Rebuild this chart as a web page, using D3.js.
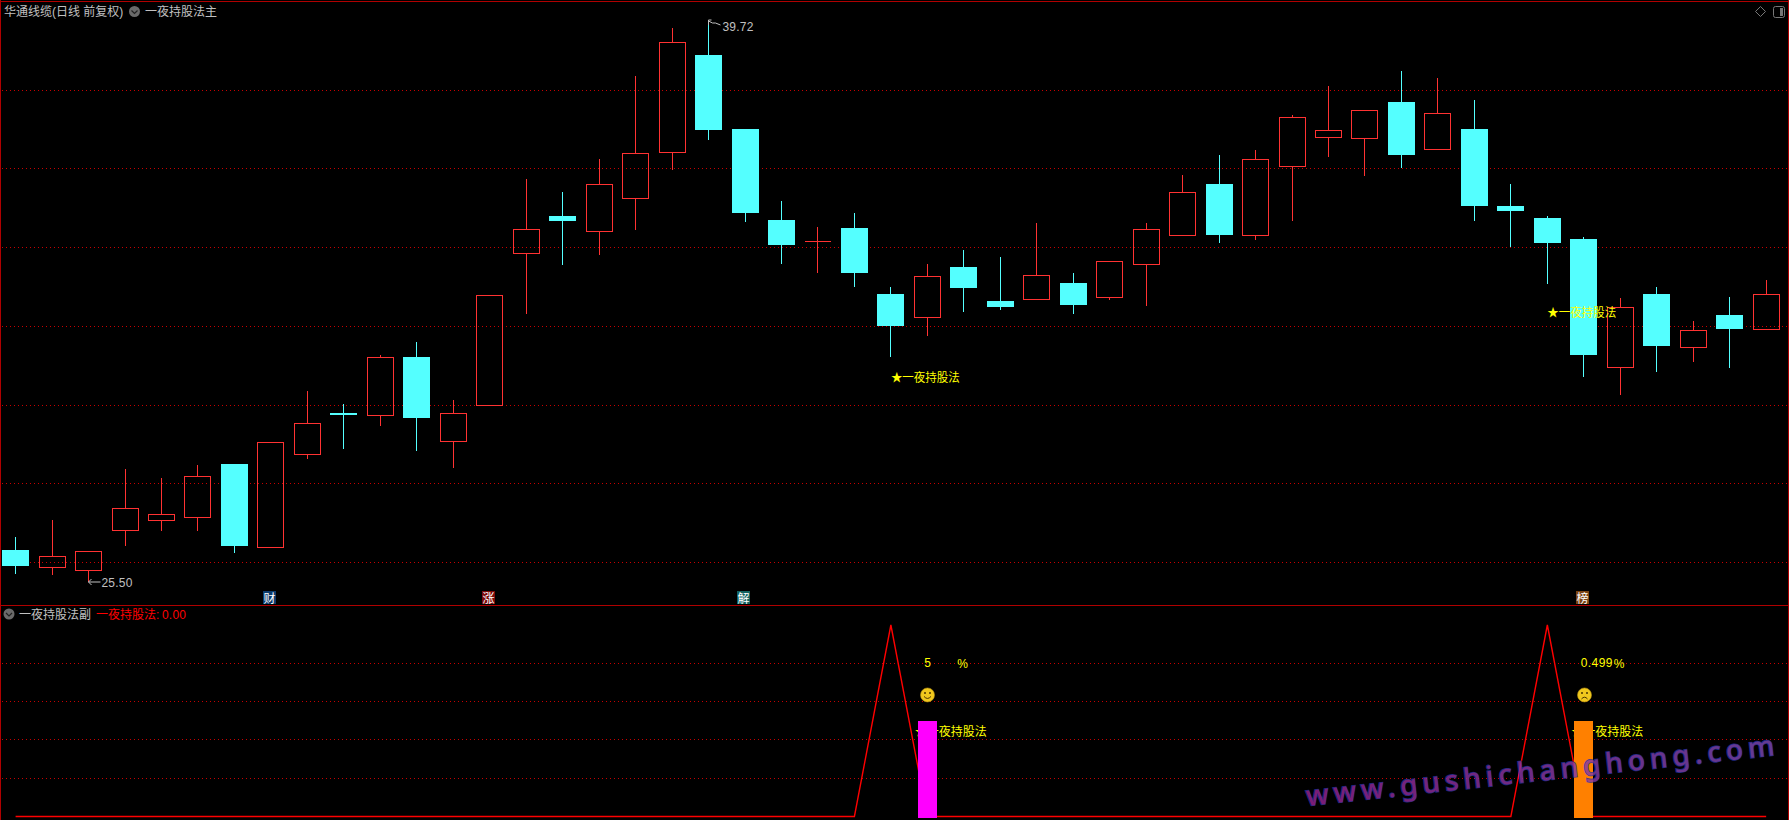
<!DOCTYPE html>
<html><head><meta charset="utf-8">
<style>
html,body{margin:0;padding:0;background:#000;overflow:hidden}
svg{display:block}
text{font-family:"Liberation Sans","Noto Sans CJK SC",sans-serif;font-size:12px}
</style>
<script src="https://cdn.jsdelivr.net/npm/d3@7/dist/d3.min.js"></script>
</head><body><div id="c"></div>
<script>
const open  = [26.31,25.86,25.79,26.80,27.08,27.13,28.49,26.39,28.73,29.78,29.72,31.20,29.08,29.97,33.85,34.78,34.39,35.22,36.38,38.86,36.98,34.68,34.14,34.47,32.80,32.20,33.48,32.62,32.66,33.08,32.73,33.57,34.28,35.59,34.28,36.05,36.76,36.74,37.67,36.48,36.98,35.03,34.73,34.19,30.93,32.80,31.46,32.27,31.90];
const close = [25.91,26.15,26.28,27.37,27.22,28.18,26.41,29.04,29.52,29.73,31.20,29.66,29.78,32.77,34.46,34.65,35.58,36.37,39.18,36.96,34.85,34.04,34.14,33.33,31.99,33.25,32.95,32.47,33.27,32.52,33.63,34.46,35.38,34.30,36.21,37.28,36.95,37.46,36.32,37.38,35.03,34.90,34.09,31.25,32.46,31.48,31.88,31.91,32.79];
const high  = [26.64,27.07,26.28,28.36,28.14,28.47,28.49,29.04,30.34,30.01,31.25,31.58,30.11,32.77,35.71,35.39,36.21,38.33,39.54,39.72,36.98,35.16,34.50,34.85,32.98,33.56,33.92,33.74,34.60,33.33,33.63,34.60,35.82,36.32,36.45,37.34,38.07,37.46,38.45,38.27,37.72,35.59,34.78,34.24,32.70,32.98,32.12,32.72,33.16];
const low   = [25.70,25.68,25.50,26.42,26.80,26.80,26.23,26.39,28.62,28.87,29.45,28.82,28.39,29.97,32.29,33.54,33.80,34.42,35.94,36.70,34.62,33.56,33.33,32.98,31.20,31.74,32.34,32.39,32.66,32.29,32.65,32.50,34.28,34.09,34.17,34.65,36.27,35.79,35.99,36.48,34.65,33.99,33.05,30.70,30.24,30.82,31.08,30.92,31.90];
const gridPrices = [37.96,35.99,33.98,31.98,29.98,28.00,26.00];
const gridSub = [80,60,40,20];
const signal = [0,0,0,0,0,0,0,0,0,0,0,0,0,0,0,0,0,0,0,0,0,0,0,0,100,0,0,0,0,0,0,0,0,0,0,0,0,0,0,0,0,0,100,0,0,0,0,0,0];
const tags = [{i:7,t:"财",bg:"#0b3a6b"},{i:13,t:"涨",bg:"#7d0a0a"},{i:20,t:"解",bg:"#12615f"},{i:43,t:"榜",bg:"#7a4210"}];
const starLabels = [{i:24,p:30.70},{i:42,p:32.34}];
const signalBars = [{i:25,v:50,c:"#ff00ff",pct:"5",mood:1},{i:43,v:50,c:"#ff8000",pct:"0.499",mood:-1}];
const titleMain = "华通线缆(日线 前复权)", nameMain = "一夜持股法主", nameSub = "一夜持股法副", legendSub = "一夜持股法", legendVal = "0.00", starText = "★一夜持股法";
const watermark = "www.gushichanghong.com";

const W=1789,H=820, FRAME="#b00000", GRID="#c80000", UP="#ff3232", DOWN="#54ffff", GREY="#c0c0c0", YEL="#ffff00";
const svg=d3.select("#c").append("svg").attr("width",W).attr("height",H).style("background","#000");
const band=d3.scaleBand().domain(d3.range(open.length)).range([-2.635,-2.635+36.47*open.length]);
const x=i=>band(i)+band.bandwidth()/2;
const sx=i=>Math.floor(x(i))+.5;
const y=d3.scaleLinear().domain([25.5,39.72]).range([582,21]);
const sy=d3.scaleLinear().domain([0,100]).range([816.5,625]);
const snap=v=>Math.round(v)+.5;

// grid
const gg=svg.append("g").attr("stroke",GRID).attr("stroke-dasharray","1 3").attr("shape-rendering","crispEdges");
gg.selectAll("line.m").data(gridPrices).join("line").attr("class","m").attr("x1",2).attr("x2",W-1).attr("y1",d=>Math.floor(y(d))+.5).attr("y2",d=>Math.floor(y(d))+.5);
gg.selectAll("line.s").data(gridSub).join("line").attr("class","s").attr("x1",2).attr("x2",W-1).attr("y1",d=>Math.floor(sy(d))+.5).attr("y2",d=>Math.floor(sy(d))+.5);

// candles
const cg=svg.append("g").attr("shape-rendering","crispEdges");
open.forEach((o,i)=>{
  const c=close[i],up=c>=o,col=up?UP:DOWN,cx=sx(i);
  const top=y(Math.max(o,c)),bot=y(Math.min(o,c));
  cg.append("line").attr("x1",cx).attr("x2",cx).attr("y1",y(high[i])).attr("y2",top).attr("stroke",col);
  cg.append("line").attr("x1",cx).attr("x2",cx).attr("y1",bot).attr("y2",y(low[i])).attr("stroke",col);
  if(up){
    if(bot-top<1.5) cg.append("line").attr("x1",cx-13).attr("x2",cx+13).attr("y1",snap(top)).attr("y2",snap(top)).attr("stroke",col);
    else cg.append("rect").attr("x",cx-13).attr("width",26).attr("y",snap(top)).attr("height",Math.round(bot-top)).attr("fill","none").attr("stroke",col);
  } else {
    cg.append("rect").attr("x",cx-13.5).attr("width",27).attr("y",Math.round(top)).attr("height",Math.max(2,Math.round(bot-top))).attr("fill",col);
  }
});

// extreme-price notes
const iHi=high.indexOf(d3.max(high)), iLo=low.indexOf(d3.min(low));
const hx=sx(iHi),hy=y(high[iHi]),lx=sx(iLo),ly=y(low[iLo]);
svg.append("path").attr("fill","none").attr("stroke",GREY)
  .attr("d",`M${hx},${hy+4}V${hy-1}H${hx+3}M${hx},${hy}L${hx+4},${hy+2}L${hx+7},${hy+2}L${hx+12},${hy+4}`);
svg.append("text").attr("x",hx+14).attr("y",hy+10).attr("fill",GREY).attr("letter-spacing",".2").text(d3.format(".2f")(high[iHi]));
svg.append("path").attr("fill","none").attr("stroke",GREY)
  .attr("d",`M${lx+12},${ly}H${lx}M${lx+3},${ly-3}L${lx},${ly}L${lx+3},${ly+3}`);
svg.append("text").attr("x",lx+13).attr("y",ly+5).attr("fill",GREY).attr("letter-spacing",".2").text(d3.format(".2f")(low[iLo]));

// star labels on main panel
svg.selectAll("text.star").data(starLabels).join("text").attr("class","star")
  .attr("x",d=>x(d.i)).attr("y",d=>y(d.p)+5).attr("textLength",69).attr("lengthAdjust","spacingAndGlyphs").attr("fill",YEL).text(starText);

// tags
const tg=svg.selectAll("g.tag").data(tags).join("g").attr("class","tag").attr("transform",d=>`translate(${Math.round(x(d.i))-8},591)`);
tg.append("rect").attr("width",13).attr("height",13).attr("fill",d=>d.bg);
tg.append("text").attr("x",0.5).attr("y",11.5).attr("fill","#fff").text(d=>d.t);

// frame
const fg=svg.append("g").attr("stroke",FRAME).attr("shape-rendering","crispEdges");
fg.append("line").attr("x1",0).attr("x2",W).attr("y1",1.5).attr("y2",1.5);
fg.append("line").attr("x1",0).attr("x2",W).attr("y1",605.5).attr("y2",605.5);
fg.append("line").attr("x1",.5).attr("x2",.5).attr("y1",0).attr("y2",H);
fg.append("line").attr("x1",W-.5).attr("x2",W-.5).attr("y1",0).attr("y2",H);

// header text + icons
function chevron(cx,cy){
  svg.append("circle").attr("cx",cx).attr("cy",cy).attr("r",5.5).attr("fill","#6a6a6a");
  svg.append("path").attr("d",`M${cx-3},${cy-1}L${cx},${cy+2}L${cx+3},${cy-1}`).attr("fill","none").attr("stroke","#222").attr("stroke-width",1.2);
}
svg.append("text").attr("x",4).attr("y",16).attr("fill",GREY).text(titleMain);
chevron(134.5,11.5);
svg.append("text").attr("x",145).attr("y",16).attr("fill",GREY).text(nameMain);
svg.append("path").attr("d","M1760.5,6.5l5,5l-5,5l-5,-5z").attr("fill","none").attr("stroke","#777");
svg.append("rect").attr("x",1773.5).attr("y",6.5).attr("width",11).attr("height",11).attr("rx",2).attr("fill","none").attr("stroke","#777");
svg.append("rect").attr("x",1780).attr("y",8).attr("width",3).attr("height",8).attr("fill","#777");

chevron(9,614);
svg.append("text").attr("x",19).attr("y",619).attr("fill",GREY).text(nameSub);
svg.append("text").attr("x",96).attr("y",619).attr("fill","#ff0000").text(legendSub+":");
svg.append("text").attr("x",162).attr("y",619).attr("fill","#ff0000").attr("letter-spacing",".2").text(legendVal);

// sub panel texts under bars
const tx=svg.selectAll("g.sigtext").data(signalBars).join("g").attr("class","sigtext");
tx.append("text").attr("x",d=>x(d.i)-12.5).attr("y",sy(45)+6).attr("fill",YEL).text(starText);
tx.append("text").attr("x",d=>x(d.i)-3).attr("y",sy(80)+4).attr("fill",YEL).attr("letter-spacing",".4").text(d=>d.pct);
tx.append("text").attr("x",d=>x(d.i)+30).attr("y",sy(80)+5).attr("fill",YEL).text("%");

// signal line
svg.append("path").datum(signal).attr("fill","none").attr("stroke","#ff0000").attr("stroke-width",1.4)
  .attr("d",d3.line().x((d,i)=>x(i)).y(d=>sy(d)));

// bars, drawn over the line
svg.selectAll("rect.sigbar").data(signalBars).join("rect").attr("class","sigbar")
  .attr("x",d=>Math.floor(x(d.i))-9).attr("width",19).attr("y",d=>sy(d.v)).attr("height",d=>sy(0)-sy(d.v)+1).attr("fill",d=>d.c).attr("shape-rendering","crispEdges");

// faces
const face=svg.selectAll("g.face").data(signalBars).join("g").attr("class","face").attr("transform",d=>`translate(${Math.round(x(d.i))+.5},${sy(64)+1})`);
face.append("circle").attr("r",7).attr("fill","#f0c81e").attr("stroke","#b8930f").attr("stroke-width",.6);
face.append("circle").attr("cx",-2.5).attr("cy",-2).attr("r",1).attr("fill","#4a3400");
face.append("circle").attr("cx",2.5).attr("cy",-2).attr("r",1).attr("fill","#4a3400");
face.append("path").attr("fill","none").attr("stroke","#4a3400").attr("stroke-width",1)
  .attr("d",d=>d.mood>0?"M-3.5,1.5Q0,5.5 3.5,1.5":"M-3,4Q0,0.5 3,4");

// watermark
const defs=svg.append("defs");
const lg=defs.append("linearGradient").attr("id","wm").attr("x1","0").attr("x2","1");
lg.append("stop").attr("offset","0").attr("stop-color","#96238f");
lg.append("stop").attr("offset","1").attr("stop-color","#7a48b4");
svg.append("text").attr("transform","translate(1307,806) rotate(-6.2)")
  .attr("textLength",471).attr("lengthAdjust","spacing")
  .attr("style",'font-family:"Noto Sans","Open Sans",sans-serif;font-size:28px;font-weight:500;paint-order:stroke')
  .attr("fill","url(#wm)").attr("stroke","#262f9a").attr("stroke-width",1.6).attr("opacity",.82).text(watermark);
</script>
</body></html>
